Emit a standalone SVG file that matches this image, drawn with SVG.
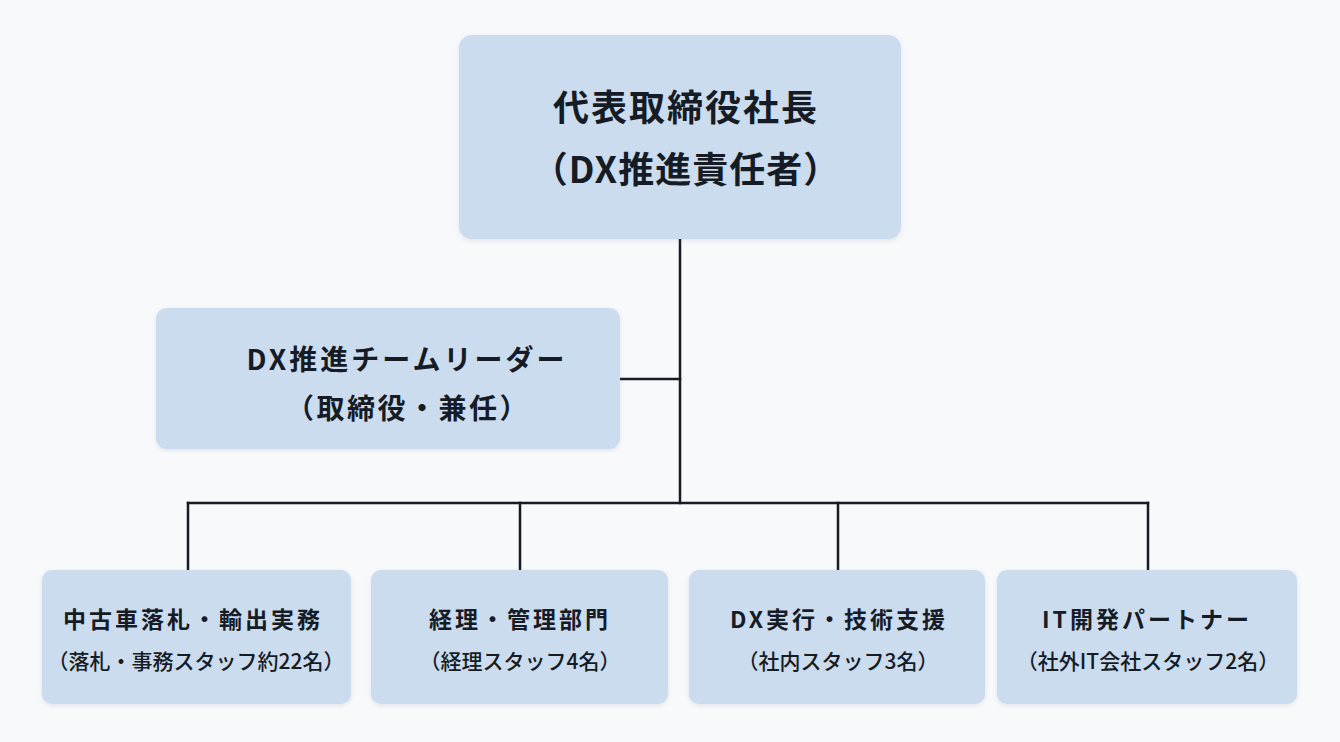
<svg xmlns="http://www.w3.org/2000/svg" width="1340" height="742" viewBox="0 0 1340 742">
<defs>
<style>
.box{fill:#cbdcee;filter:url(#sh);}
.t{font-family:"Noto Sans CJK JP","Noto Sans",sans-serif;fill:#161c26;text-anchor:middle;}
.b{font-weight:700;}
.m{font-weight:500;}
.ln{stroke:#161b24;stroke-width:2.5;fill:none;stroke-linecap:square;}
</style>
<filter id="sh" x="-5%" y="-5%" width="110%" height="115%">
<feDropShadow dx="0" dy="1.5" stdDeviation="2" flood-color="#6a7d95" flood-opacity="0.18"/>
</filter>
</defs>
<rect width="1340" height="742" fill="#f7f9fb"/>
<g id="connectors">
<path class="ln" d="M680 239 V503"/>
<path class="ln" d="M620 379 H680"/>
<path class="ln" d="M188 503 H1148"/>
<path class="ln" d="M188 503 V570 M520 503 V570 M838 503 V570 M1148 503 V570"/>
</g>
<g id="ceo">
<rect class="box" x="459" y="35" width="442" height="204" rx="13"/>
<text class="t b" x="686" y="121" font-size="36" letter-spacing="2">代表取締役社長</text>
<text class="t b" x="686" y="183" font-size="36" letter-spacing="1">（DX推進責任者）</text>
</g>
<g id="leader">
<rect class="box" x="156" y="308" width="464" height="141" rx="11"/>
<text class="t b" x="407" y="370" font-size="28" letter-spacing="3">DX推進チームリーダー</text>
<text class="t b" x="408" y="419" font-size="28" letter-spacing="2.5">（取締役・兼任）</text>
</g>
<g id="auction">
<rect class="box" x="42" y="570" width="309" height="134" rx="10"/>
<text class="t b" x="193" y="628" font-size="23" letter-spacing="3">中古車落札・輸出実務</text>
<text class="t m" x="196" y="669" font-size="21">（落札・事務スタッフ約22名）</text>
</g>
<g id="accounting">
<rect class="box" x="371" y="570" width="297" height="134" rx="10"/>
<text class="t b" x="520" y="628" font-size="23" letter-spacing="3">経理・管理部門</text>
<text class="t m" x="520" y="669" font-size="21">（経理スタッフ4名）</text>
</g>
<g id="dx">
<rect class="box" x="689" y="570" width="296" height="134" rx="10"/>
<text class="t b" x="839" y="628" font-size="23" letter-spacing="3">DX実行・技術支援</text>
<text class="t m" x="838" y="669" font-size="21">（社内スタッフ3名）</text>
</g>
<g id="itpartner">
<rect class="box" x="997" y="570" width="300" height="134" rx="10"/>
<text class="t b" x="1147" y="628" font-size="23" letter-spacing="3">IT開発パートナー</text>
<text class="t m" x="1148" y="669" font-size="21">（社外IT会社スタッフ2名）</text>
</g>
</svg>
